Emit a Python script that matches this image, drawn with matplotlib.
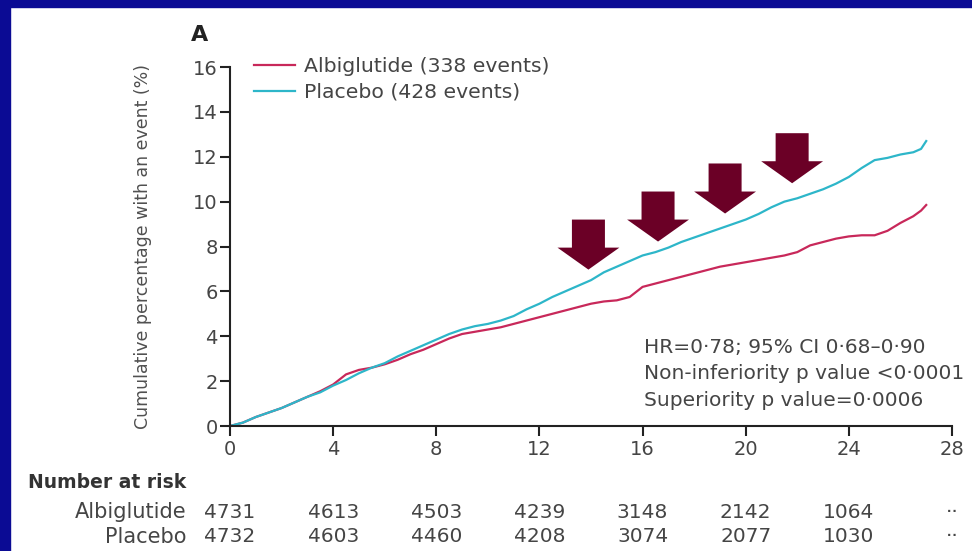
"""
Kaplan-Meier 누적 사건 곡선 재현 (Albiglutide vs Placebo)
"""
import matplotlib
matplotlib.use("Agg")
import matplotlib.pyplot as plt
from matplotlib.patches import Rectangle

plt.rcParams["font.family"] = ["DejaVu Sans"]

# 곡선 데이터 (개월, 누적 %)
months = [0, 0.5, 1, 1.5, 2, 2.5, 3, 3.5, 4, 4.5, 5, 5.5, 6, 6.5, 7, 7.5, 8, 8.5,
          9, 9.5, 10, 10.5, 11, 11.5, 12, 12.5, 13, 13.5, 14, 14.5, 15, 15.5, 16,
          16.5, 17, 17.5, 18, 18.5, 19, 19.5, 20, 20.5, 21, 21.5, 22, 22.5, 23,
          23.5, 24, 24.5, 25, 25.5, 26, 26.5, 26.8, 27]
placebo_pct = [0, 0.15, 0.4, 0.6, 0.8, 1.05, 1.3, 1.5, 1.8, 2.05, 2.35, 2.6, 2.8,
               3.1, 3.35, 3.6, 3.85, 4.1, 4.3, 4.45, 4.55, 4.7, 4.9, 5.2, 5.45,
               5.75, 6.0, 6.25, 6.5, 6.85, 7.1, 7.35, 7.6, 7.75, 7.95, 8.2, 8.4,
               8.6, 8.8, 9.0, 9.2, 9.45, 9.75, 10.0, 10.15, 10.35, 10.55, 10.8,
               11.1, 11.5, 11.85, 11.95, 12.1, 12.2, 12.35, 12.7]
albiglutide_pct = [0, 0.15, 0.4, 0.6, 0.8, 1.05, 1.3, 1.55, 1.85, 2.3, 2.5, 2.6,
                   2.75, 2.95, 3.2, 3.4, 3.65, 3.9, 4.1, 4.2, 4.3, 4.4, 4.55, 4.7,
                   4.85, 5.0, 5.15, 5.3, 5.45, 5.55, 5.6, 5.75, 6.2, 6.35, 6.5,
                   6.65, 6.8, 6.95, 7.1, 7.2, 7.3, 7.4, 7.5, 7.6, 7.75, 8.05, 8.2,
                   8.35, 8.45, 8.5, 8.5, 8.7, 9.05, 9.35, 9.6, 9.85]

legend_labels = ["Albiglutide (338 events)", "Placebo (428 events)"]

# 위험 대상자 수 테이블
risk_times = [0, 4, 8, 12, 16, 20, 24, 28]
risk_albiglutide = ["4731", "4613", "4503", "4239", "3148", "2142", "1064", "··"]
risk_placebo = ["4732", "4603", "4460", "4208", "3074", "2077", "1030", "··"]

stats_lines = ["HR=0·78; 95% CI 0·68–0·90",
               "Non-inferiority p value <0·0001",
               "Superiority p value=0·0006"]

# 강조 화살표 (x 중심, 윗변 y)
arrow_x = [13.9, 16.6, 19.2, 21.8]
arrow_top = [9.2, 10.45, 11.7, 13.05]

COL_ALB = "#c8285a"
COL_PLA = "#2db6c9"
COL_ARROW = "#6b0026"
COL_TEXT = "#454545"
COL_BORDER = "#0b0b94"

fig = plt.figure(figsize=(9.72, 5.51), dpi=100)
fig.patch.set_facecolor("white")

# 왼쪽/위쪽 파란 테두리
fig.patches.append(Rectangle((0, 0), 10 / 972, 1, transform=fig.transFigure,
                             color=COL_BORDER, zorder=0))
fig.patches.append(Rectangle((0, 1 - 7 / 551), 1, 7 / 551, transform=fig.transFigure,
                             color=COL_BORDER, zorder=0))

ax = fig.add_axes([230 / 972, 1 - 426 / 551, 722 / 972, 359 / 551])

ax.plot(months, albiglutide_pct, color=COL_ALB, lw=1.6, label=legend_labels[0], zorder=2)
ax.plot(months, placebo_pct, color=COL_PLA, lw=1.6, label=legend_labels[1], zorder=2)

for x, top in zip(arrow_x, arrow_top):
    ax.arrow(x, top, 0, -2.23, width=1.28, head_width=2.4, head_length=0.98,
             length_includes_head=True, color=COL_ARROW, lw=0, zorder=3)

ax.set_xlim(0, 28)
ax.set_ylim(0, 16)
ax.set_xticks(risk_times)
ax.set_yticks(range(0, 17, 2))
for side in ["top", "right"]:
    ax.spines[side].set_visible(False)
for side in ["left", "bottom"]:
    ax.spines[side].set_linewidth(1.5)
    ax.spines[side].set_color("#222222")
ax.tick_params(direction="out", length=7, width=1.5, color="#222222",
               labelsize=14, labelcolor=COL_TEXT)
ax.tick_params(axis="x", pad=3)
ax.tick_params(axis="y", pad=2)

ax.set_ylabel("Cumulative percentage with an event (%)", fontsize=12.5, color="#505050")
ax.yaxis.set_label_coords(-0.108, 0.5)

leg = ax.legend(loc="upper left", bbox_to_anchor=(0.022, 1.05), frameon=False,
                fontsize=14.7, handlelength=2.0, handletextpad=0.45, labelspacing=0.32,
                borderaxespad=0)
for t in leg.get_texts():
    t.set_color(COL_TEXT)

for i, line in enumerate(stats_lines):
    ax.text(16.05, 3.52 - i * 1.2, line, fontsize=14.5, color=COL_TEXT,
            ha="left", va="center")

fig.text(200 / 972, 1 - 35 / 551, "A", fontsize=16, fontweight="bold",
         color="#222222", ha="center", va="center")

# Number at risk
tr = ax.get_xaxis_transform()
fig.text(28 / 972, 1 - 483 / 551, "Number at risk", fontsize=13.5, fontweight="bold",
         color="#333333", ha="left", va="center")
row_y = [(426 - 512) / 359, (426 - 537) / 359]
ax.text(-1.67, row_y[0], "Albiglutide", transform=tr, ha="right", va="center",
        fontsize=15, color=COL_TEXT, clip_on=False)
ax.text(-1.67, row_y[1], "Placebo", transform=tr, ha="right", va="center",
        fontsize=15, color=COL_TEXT, clip_on=False)
for t, a, p in zip(risk_times, risk_albiglutide, risk_placebo):
    ax.text(t, row_y[0], a, transform=tr, ha="center", va="center",
            fontsize=14.5, color=COL_TEXT, clip_on=False)
    ax.text(t, row_y[1], p, transform=tr, ha="center", va="center",
            fontsize=14.5, color=COL_TEXT, clip_on=False)

fig.savefig("out.png", dpi=100)
